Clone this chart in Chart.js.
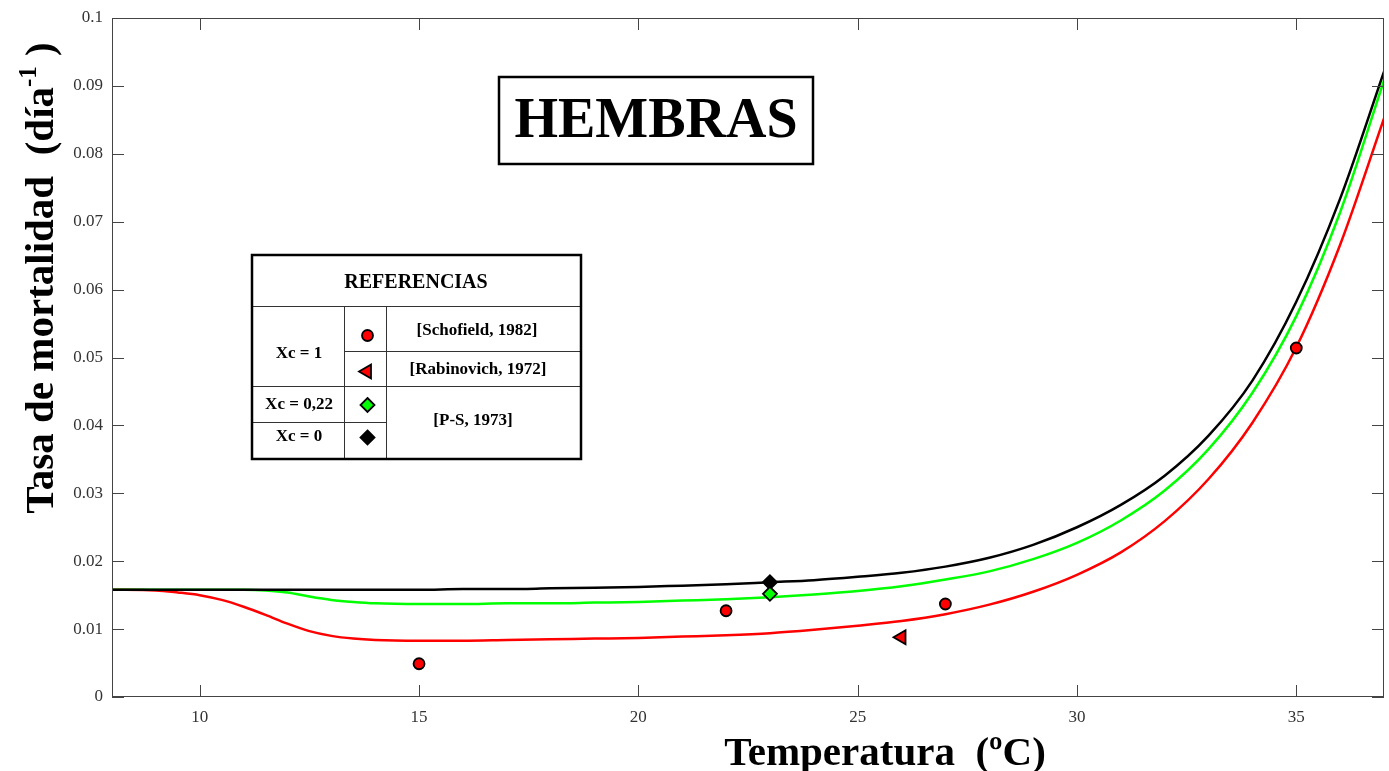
<!DOCTYPE html>
<html>
<head>
<meta charset="utf-8">
<script src="https://cdn.jsdelivr.net/npm/chart.js"></script>
<style>
  html, body { margin: 0; padding: 0; background: #fff; }
  #wrap { width: 1389px; height: 771px; }
</style>
</head>
<body>
<div id="wrap"><canvas id="mortalidad" width="1389" height="771"></canvas></div>
<script>
// temperatures where the model curves were read
const curveTemp = [8, 9, 9.5, 10, 10.5, 11, 11.5, 12, 12.5, 13, 13.5, 14, 15, 16, 17, 18, 19, 20,
  21, 22, 23, 24, 25, 26, 27, 28, 29, 30, 31, 32, 33, 34, 35, 36, 37];
// Xc = 0 (black)
const mortXc0 = [0.0158, 0.0158, 0.0158, 0.0158, 0.0158, 0.0158, 0.0158, 0.0158, 0.0158, 0.0158, 0.0158, 0.0158,
  0.0158, 0.0159, 0.0159, 0.0160, 0.0161, 0.0162, 0.0164, 0.0166, 0.0169, 0.0172, 0.0177, 0.0183, 0.0192,
  0.0205, 0.0224, 0.0250, 0.0283, 0.0326, 0.0385, 0.0466, 0.0582, 0.0734, 0.0921];
// Xc = 0,22 (green)
const mortXc022 = [0.0158, 0.0158, 0.0158, 0.0158, 0.0158, 0.0158, 0.0157, 0.0154, 0.0148, 0.0143, 0.0140, 0.0138,
  0.0137, 0.0137, 0.0138, 0.0138, 0.0139, 0.0140, 0.0142, 0.0144, 0.0147, 0.0151, 0.0156, 0.0163, 0.0173,
  0.0185, 0.0203, 0.0227, 0.0260, 0.0304, 0.0365, 0.0448, 0.0561, 0.0714, 0.0908];
// Xc = 1 (red)
const mortXc1 = [0.0158, 0.0157, 0.0154, 0.0150, 0.0143, 0.0133, 0.0121, 0.0108, 0.0097, 0.0090, 0.0086, 0.0084,
  0.0083, 0.0083, 0.0084, 0.0085, 0.0086, 0.0087, 0.0089, 0.0091, 0.0094, 0.0099, 0.0105, 0.0112, 0.0122,
  0.0136, 0.0155, 0.0180, 0.0213, 0.0259, 0.0321, 0.0404, 0.0515, 0.0666, 0.0852];

// observed points
const schofieldTemp = [15, 22, 27, 35];
const schofieldMort = [0.0049, 0.0127, 0.0137, 0.0514];
const rabinovichTemp = [26];
const rabinovichMort = [0.0088];
const psTemp = [23];
const psMortXc022 = [0.0152];
const psMortXc0 = [0.0169];

const xTicks = [10, 15, 20, 25, 30, 35];
const xTickLabels = ['10', '15', '20', '25', '30', '35'];
const yTicks = [0, 0.01, 0.02, 0.03, 0.04, 0.05, 0.06, 0.07, 0.08, 0.09, 0.1];
const yTickLabels = ['0', '0.01', '0.02', '0.03', '0.04', '0.05', '0.06', '0.07', '0.08', '0.09', '0.1'];

const SERIF = '"Liberation Serif", "DejaVu Serif", serif';

function toPoints(xs, ys) {
    return xs.map((x, i) => ({ x: x, y: ys[i] }));
}

function curve(label, ys, color) {
    return {
        label: label,
        data: toPoints(curveTemp, ys),
        showLine: true,
        borderColor: color,
        borderWidth: 2.5,
        pointRadius: 0,
        cubicInterpolationMode: 'monotone',
        order: 2
    };
}

function markers(label, xs, ys, fill, style, radius, rotation) {
    return {
        label: label,
        data: toPoints(xs, ys),
        showLine: false,
        pointStyle: style,
        pointRadius: radius,
        pointRotation: rotation || 0,
        backgroundColor: fill,
        borderColor: '#000',
        borderWidth: 1.8,
        order: 1
    };
}

// little marker shapes for the reference table
function drawCircle(ctx, x, y, r, fill) {
    ctx.beginPath();
    ctx.arc(x, y, r, 0, Math.PI * 2);
    ctx.fillStyle = fill; ctx.fill();
    ctx.lineWidth = 1.8; ctx.strokeStyle = '#000'; ctx.stroke();
}
function drawDiamond(ctx, x, y, r, fill) {
    ctx.beginPath();
    ctx.moveTo(x, y - r); ctx.lineTo(x + r, y); ctx.lineTo(x, y + r); ctx.lineTo(x - r, y);
    ctx.closePath();
    ctx.fillStyle = fill; ctx.fill();
    ctx.lineWidth = 1.8; ctx.strokeStyle = '#000'; ctx.stroke();
}
function drawTriangleLeft(ctx, x, y, r, fill) {
    ctx.beginPath();
    ctx.moveTo(x - r, y);
    ctx.lineTo(x + r / 2, y - r * 0.866);
    ctx.lineTo(x + r / 2, y + r * 0.866);
    ctx.closePath();
    ctx.fillStyle = fill; ctx.fill();
    ctx.lineWidth = 1.8; ctx.strokeStyle = '#000'; ctx.stroke();
}

const framePlugin = {
    id: 'frame',
    beforeDraw(chart) {
        const ctx = chart.ctx;
        ctx.save();
        ctx.fillStyle = '#fff';
        ctx.fillRect(0, 0, chart.width, chart.height);
        ctx.restore();
    },
    afterDraw(chart) {
        const ctx = chart.ctx;
        const a = chart.chartArea;
        const x = chart.scales.x;
        const y = chart.scales.y;
        ctx.save();

        // box + inward ticks on all four sides
        ctx.strokeStyle = '#444';
        ctx.lineWidth = 1;
        ctx.strokeRect(Math.round(a.left) + 0.5, Math.round(a.top) + 0.5,
            Math.round(a.right - a.left) - 1, Math.round(a.bottom - a.top) - 1);
        ctx.beginPath();
        xTicks.forEach(v => {
            const px = Math.round(x.getPixelForValue(v)) + 0.5;
            ctx.moveTo(px, a.bottom); ctx.lineTo(px, a.bottom - 12);
            ctx.moveTo(px, a.top); ctx.lineTo(px, a.top + 12);
        });
        yTicks.forEach(v => {
            const py = Math.round(y.getPixelForValue(v)) + 0.5;
            ctx.moveTo(a.left, py); ctx.lineTo(a.left + 12, py);
            ctx.moveTo(a.right, py); ctx.lineTo(a.right - 12, py);
        });
        ctx.stroke();

        // x axis title
        ctx.fillStyle = '#000';
        ctx.font = 'bold 41px ' + SERIF;
        ctx.textAlign = 'center';
        ctx.textBaseline = 'alphabetic';
        ctx.fillText('Temperatura  (\u00baC)', 885, 765);

        // y axis title with superscript
        ctx.save();
        ctx.translate(53, 278);
        ctx.rotate(-Math.PI / 2);
        ctx.textAlign = 'left';
        const big = 'bold 41px ' + SERIF;
        const small = 'bold 25px ' + SERIF;
        const p1 = 'Tasa de mortalidad  (d\u00eda';
        const p2 = '-1';
        const p3 = ' )';
        ctx.font = big; const w1 = ctx.measureText(p1).width; const w3 = ctx.measureText(p3).width;
        ctx.font = small; const w2 = ctx.measureText(p2).width;
        let cx = -(w1 + w2 + w3) / 2;
        ctx.font = big; ctx.fillText(p1, cx, 0); cx += w1;
        ctx.font = small; ctx.fillText(p2, cx, -17); cx += w2;
        ctx.font = big; ctx.fillText(p3, cx, 0);
        ctx.restore();

        // HEMBRAS box
        ctx.fillStyle = '#fff';
        ctx.fillRect(499, 77, 314, 87);
        ctx.lineWidth = 2.5;
        ctx.strokeStyle = '#000';
        ctx.strokeRect(499, 77, 314, 87);
        ctx.fillStyle = '#000';
        ctx.font = 'bold 56px ' + SERIF;
        ctx.textAlign = 'center';
        ctx.textBaseline = 'middle';
        ctx.fillText('HEMBRAS', 656, 123);

        // REFERENCIAS table
        const L = 252, R = 581, T = 255, B = 459, c1 = 344.5, c2 = 386.5;
        ctx.fillStyle = '#fff';
        ctx.fillRect(L, T, R - L, B - T);
        ctx.lineWidth = 1;
        ctx.strokeStyle = '#333';
        ctx.beginPath();
        ctx.moveTo(L, 306.5); ctx.lineTo(R, 306.5);
        ctx.moveTo(c1, 306.5); ctx.lineTo(c1, B);
        ctx.moveTo(c2, 306.5); ctx.lineTo(c2, B);
        ctx.moveTo(c1, 351.5); ctx.lineTo(R, 351.5);
        ctx.moveTo(L, 386.5); ctx.lineTo(R, 386.5);
        ctx.moveTo(L, 422.5); ctx.lineTo(c2, 422.5);
        ctx.stroke();
        ctx.lineWidth = 2.5;
        ctx.strokeStyle = '#000';
        ctx.strokeRect(L, T, R - L, B - T);

        ctx.fillStyle = '#000';
        ctx.font = 'bold 20px ' + SERIF;
        ctx.fillText('REFERENCIAS', 416, 283);
        ctx.font = 'bold 17px ' + SERIF;
        ctx.fillText('Xc = 1', 299, 354);
        ctx.fillText('Xc = 0,22', 299, 405);
        ctx.fillText('Xc = 0', 299, 437);
        ctx.fillText('[Schofield, 1982]', 477, 331);
        ctx.fillText('[Rabinovich, 1972]', 478, 370);
        ctx.fillText('[P-S, 1973]', 473, 421);

        drawCircle(ctx, 367.5, 335.5, 5.5, '#ff0000');
        drawTriangleLeft(ctx, 367, 371.5, 8, '#ff0000');
        drawDiamond(ctx, 367.5, 405, 7, '#00ff00');
        drawDiamond(ctx, 367.5, 437.5, 7, '#000');

        ctx.restore();
    }
};

new Chart(document.querySelector('#mortalidad'), {
    type: 'scatter',
    data: {
        datasets: [
            curve('Xc = 0', mortXc0, '#000000'),
            curve('Xc = 0,22', mortXc022, '#00ff00'),
            curve('Xc = 1', mortXc1, '#ff0000'),
            markers('[Schofield, 1982]', schofieldTemp, schofieldMort, '#ff0000', 'circle', 5.5),
            markers('[Rabinovich, 1972]', rabinovichTemp, rabinovichMort, '#ff0000', 'triangle', 8, -90),
            markers('[P-S, 1973] Xc = 0,22', psTemp, psMortXc022, '#00ff00', 'rectRot', 7),
            markers('[P-S, 1973] Xc = 0', psTemp, psMortXc0, '#000000', 'rectRot', 7)
        ]
    },
    options: {
        responsive: false,
        animation: false,
        events: [],
        layout: { autoPadding: false, padding: { left: 0, right: 5, top: 18, bottom: 0 } },
        plugins: {
            legend: { display: false },
            tooltip: { enabled: false }
        },
        scales: {
            x: {
                type: 'linear',
                min: 8,
                max: 37,
                afterBuildTicks: s => { s.ticks = xTicks.map(v => ({ value: v })); },
                afterFit: s => { s.height = 74; s.paddingLeft = 0; s.paddingRight = 0; },
                grid: { display: false, drawTicks: false },
                border: { display: false },
                ticks: {
                    padding: 10,
                    color: '#333',
                    font: { family: SERIF, size: 17 },
                    callback: (v, i) => xTickLabels[i]
                }
            },
            y: {
                type: 'linear',
                min: 0,
                max: 0.1,
                afterBuildTicks: s => { s.ticks = yTicks.map(v => ({ value: v })); },
                afterFit: s => { s.width = 112; s.paddingTop = 0; s.paddingBottom = 0; },
                grid: { display: false, drawTicks: false },
                border: { display: false },
                ticks: {
                    padding: 9,
                    color: '#333',
                    font: { family: SERIF, size: 17 },
                    callback: (v, i) => yTickLabels[i]
                }
            }
        }
    },
    plugins: [framePlugin]
});
</script>
</body>
</html>
